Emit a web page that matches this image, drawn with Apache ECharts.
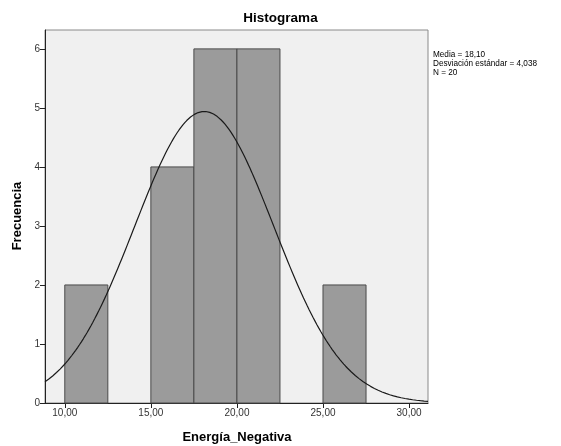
<!DOCTYPE html>
<html>
<head>
<meta charset="utf-8">
<script src="https://cdn.jsdelivr.net/npm/echarts@6/dist/echarts.min.js"></script>
<style>
html,body{margin:0;padding:0;background:#fff;}
#chart{width:561px;height:446px;}
</style>
</head>
<body>
<div id="chart"></div>
<script>
// Bins: start, end, frequency
const binStarts = [10, 15, 17.5, 20, 25];
const binEnds = [12.5, 17.5, 20, 22.5, 27.5];
const frequencies = [2, 4, 6, 6, 2];
const xTicks = [10, 15, 20, 25, 30];
const yTicks = [0, 1, 2, 3, 4, 5, 6];
const mean = 18.10;
const stdDev = 4.038;
const nCount = 20;
const binWidth = 2.5;
const xMin = 8.85, xMax = 31.1, yMax = 6.32;

// Fitted normal curve overlay from the reported statistics
const curve = [];
for (let i = 0; i <= 200; i++) {
  const x = xMin + (xMax - xMin) * i / 200;
  const z = (x - mean) / stdDev;
  curve.push([x, nCount * binWidth / (stdDev * Math.sqrt(2 * Math.PI)) * Math.exp(-0.5 * z * z)]);
}
const barData = binStarts.map((s, i) => [s, binEnds[i], frequencies[i]]);

const chart = echarts.init(document.getElementById('chart'), null, {renderer: 'canvas'});
const fmt = v => v.toFixed(2).replace('.', ',');
chart.setOption({
  animation: false,
  backgroundColor: '#ffffff',
  textStyle: {fontFamily: 'Liberation Sans, Arial, sans-serif'},
  grid: {left: 45, right: 133, top: 30, bottom: 43, show: true, backgroundColor: '#f0f0f0', borderColor: '#8a8a8a', borderWidth: 1},
  xAxis: {
    type: 'value', min: xMin, max: xMax,
    splitLine: {show: false},
    axisLine: {show: true, onZero: false, lineStyle: {color: '#222', width: 1}},
    axisTick: {show: true, length: 5, lineStyle: {color: '#222'}, customValues: xTicks},
    axisLabel: {customValues: xTicks, formatter: fmt, color: '#333', fontSize: 10, margin: 5}
  },
  yAxis: {
    type: 'value', min: 0, max: yMax,
    splitLine: {show: false},
    axisLine: {show: true, lineStyle: {color: '#222', width: 1}},
    axisTick: {show: true, length: 5, lineStyle: {color: '#222'}, customValues: yTicks},
    axisLabel: {customValues: yTicks, color: '#333', fontSize: 10, margin: 5}
  },
  graphic: [
    {type: 'text', left: 'center', top: 11, style: {text: 'Histograma', font: 'bold 13.5px Liberation Sans, Arial, sans-serif', fill: '#000'}},
    {type: 'text', x: 237, y: 431, style: {text: 'Energía_Negativa', font: 'bold 13px Liberation Sans, Arial, sans-serif', fill: '#000', textAlign: 'center'}},
    {type: 'text', x: 11, y: 216, rotation: Math.PI / 2, style: {text: 'Frecuencia', font: 'bold 13px Liberation Sans, Arial, sans-serif', fill: '#000', textAlign: 'center'}},
    {type: 'text', x: 433, y: 50, style: {text: 'Media = 18,10\nDesviación estándar = 4,038\nN = ' + nCount, font: '8.2px Liberation Sans, Arial, sans-serif', fill: '#000', lineHeight: 9}}
  ],
  series: [
    {
      type: 'custom',
      data: barData,
      encode: {x: [0, 1], y: 2},
      renderItem: function (params, api) {
        const p0 = api.coord([api.value(0), api.value(2)]);
        const p1 = api.coord([api.value(1), 0]);
        return {type: 'rect', shape: {x: p0[0], y: p0[1], width: p1[0] - p0[0], height: p1[1] - p0[1]},
          style: {fill: '#9b9b9b', stroke: '#4a4a4a', lineWidth: 1}};
      },
      z: 2
    },
    {
      type: 'line', data: curve, showSymbol: false, smooth: false,
      lineStyle: {color: '#1a1a1a', width: 1.2}, z: 3
    }
  ]
});
</script>
</body>
</html>
